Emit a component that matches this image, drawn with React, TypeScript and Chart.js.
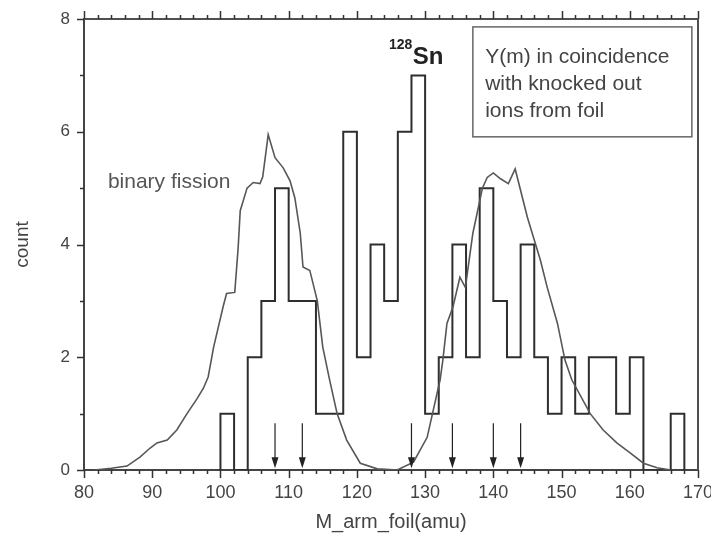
import React, { useEffect, useRef } from "react";
import { Chart, registerables } from "chart.js";

Chart.register(...registerables);

// Histogram: Y(m) in coincidence with knocked out ions from foil (2 amu bins)
const binStarts = [100, 102, 104, 106, 108, 110, 112, 114, 116, 118, 120, 122, 124, 126, 128, 130, 132, 134, 136, 138, 140, 142, 144, 146, 148, 150, 152, 154, 156, 158, 160, 162, 164, 166];
const binCounts = [1, 0, 2, 3, 5, 3, 3, 1, 1, 6, 2, 4, 3, 6, 7, 1, 2, 4, 2, 5, 3, 2, 4, 2, 1, 2, 1, 2, 2, 1, 2, 0, 0, 1];
const binWidth = 2;

// Binary fission reference curve
const fissionMass = [81.5, 84, 86.3, 88.2, 89.7, 90.7, 92.2, 93.6, 95.1, 96.6, 97.5, 98.2, 99, 100.4, 100.9, 102.1, 102.6, 102.9, 103.9, 104.8, 105.8, 106.2, 107, 108, 109.2, 110.2, 110.9, 111.7, 112.1, 113.1, 114.2, 115, 116, 117.1, 118.5, 120.5, 123, 125.9, 128.3, 130.3, 132.2, 132.6, 133.2, 134.1, 135.1, 135.9, 137, 138.4, 139.1, 140, 141, 142.2, 143.2, 145, 146.9, 147.9, 149.4, 150.5, 151.5, 154.2, 156.1, 158.1, 160.1, 162, 164, 166];
const fissionCount = [0, 0.03, 0.07, 0.23, 0.39, 0.48, 0.53, 0.71, 1.0, 1.27, 1.45, 1.65, 2.18, 2.9, 3.13, 3.15, 3.95, 4.6, 5.0, 5.1, 5.08, 5.2, 5.95, 5.54, 5.36, 5.13, 4.83, 4.2, 3.6, 3.54, 3.0, 2.18, 1.6, 1.0, 0.53, 0.12, 0.02, 0, 0.14, 0.58, 1.6, 1.95, 2.6, 2.9, 3.42, 3.24, 4.2, 5.0, 5.19, 5.27, 5.17, 5.08, 5.34, 4.48, 3.72, 3.24, 2.6, 1.95, 1.6, 1.0, 0.71, 0.48, 0.3, 0.12, 0.04, 0];

// Arrows marking masses
const arrowMasses = [108, 112, 128, 134, 140, 144];

const xMin = 80;
const xMax = 170;
const yMin = 0;
const yMax = 8;
const xMajorStep = 10;
const xMinorStep = 2;
const yMajorStep = 2;
const yMinorStep = 1;

const boxLines = ["Y(m) in coincidence", "with knocked out", "ions from foil"];
const FONT = "'Liberation Sans', Arial, Helvetica, sans-serif";

const decorPlugin = {
  id: "decor",
  afterDraw(chart: any) {
    const ctx = chart.ctx as CanvasRenderingContext2D;
    const xs = chart.scales.x;
    const ys = chart.scales.y;
    const ca = chart.chartArea;
    const px = (v: number) => xs.getPixelForValue(v);
    const py = (v: number) => ys.getPixelForValue(v);
    ctx.save();

    // frame top and right
    ctx.strokeStyle = "#505050";
    ctx.lineWidth = 2;
    ctx.beginPath();
    ctx.moveTo(ca.left - 1, ca.top);
    ctx.lineTo(ca.right, ca.top);
    ctx.lineTo(ca.right, ca.bottom + 1);
    ctx.stroke();

    // tick marks
    ctx.strokeStyle = "#333";
    ctx.lineWidth = 1.5;
    ctx.beginPath();
    for (let v = xMin; v <= xMax + 1e-9; v += xMinorStep) {
      const major = Math.abs(v % xMajorStep) < 1e-9;
      const len = major ? 8 : 4;
      const x = Math.round(px(v)) + 0.5;
      ctx.moveTo(x, ca.bottom);
      ctx.lineTo(x, ca.bottom + len);
      ctx.moveTo(x, ca.top);
      ctx.lineTo(x, ca.top - len);
    }
    for (let v = yMin; v <= yMax + 1e-9; v += yMinorStep) {
      const major = Math.abs(v % yMajorStep) < 1e-9;
      const len = major ? 7 : 4;
      const y = Math.round(py(v)) + 0.5;
      ctx.moveTo(ca.left, y);
      ctx.lineTo(ca.left - len, y);
    }
    ctx.stroke();

    // arrows
    ctx.strokeStyle = "#222";
    ctx.fillStyle = "#222";
    ctx.lineWidth = 1.2;
    arrowMasses.forEach((m) => {
      const x = px(m);
      const yTop = py(0.83);
      const yTip = py(0.03);
      ctx.beginPath();
      ctx.moveTo(x, yTop);
      ctx.lineTo(x, yTip - 8);
      ctx.stroke();
      ctx.beginPath();
      ctx.moveTo(x - 3.5, yTip - 11);
      ctx.lineTo(x + 3.5, yTip - 11);
      ctx.lineTo(x, yTip);
      ctx.closePath();
      ctx.fill();
    });

    // texts
    ctx.textAlign = "left";
    ctx.textBaseline = "alphabetic";
    ctx.fillStyle = "#555";
    ctx.font = `21px ${FONT}`;
    ctx.fillText("binary fission", px(83.5), py(5.0));

    ctx.fillStyle = "#222";
    ctx.font = `bold 14px ${FONT}`;
    ctx.fillText("128", px(124.7), py(7.47));
    ctx.font = `bold 24px ${FONT}`;
    ctx.fillText("Sn", px(128.2), py(7.2));

    // box
    const bx1 = px(137.0);
    const bx2 = px(169.1);
    const by1 = py(7.86);
    const by2 = py(5.91);
    ctx.strokeStyle = "#666";
    ctx.lineWidth = 1.5;
    ctx.strokeRect(bx1, by1, bx2 - bx1, by2 - by1);
    ctx.fillStyle = "#444";
    ctx.font = `21px ${FONT}`;
    const baselines = [7.22, 6.74, 6.26];
    boxLines.forEach((t, i) => ctx.fillText(t, px(138.8), py(baselines[i])));

    ctx.restore();
  },
};

export default function App() {
  const ref = useRef<HTMLCanvasElement | null>(null);
  useEffect(() => {
    document.body.style.margin = "0";
    const canvas = ref.current;
    if (!canvas) return;

    const histPoints: { x: number; y: number }[] = [];
    histPoints.push({ x: binStarts[0], y: 0 });
    binStarts.forEach((s, i) => {
      histPoints.push({ x: s, y: binCounts[i] });
      histPoints.push({ x: s + binWidth, y: binCounts[i] });
    });
    histPoints.push({ x: binStarts[binStarts.length - 1] + binWidth, y: 0 });

    const curvePoints = fissionMass.map((m, i) => ({ x: m, y: fissionCount[i] }));

    const chart = new Chart(canvas, {
      type: "line",
      data: {
        datasets: [
          {
            label: "binary fission",
            data: curvePoints,
            borderColor: "#575757",
            borderWidth: 1.6,
            pointRadius: 0,
            tension: 0,
          },
          {
            label: "Y(m)",
            data: histPoints,
            borderColor: "#2e2e2e",
            borderWidth: 2,
            pointRadius: 0,
            tension: 0,
          },
        ],
      },
      options: {
        animation: false,
        responsive: false,
        maintainAspectRatio: false,
        layout: { padding: { left: 0, right: 13, top: 19, bottom: 0 } },
        plugins: { legend: { display: false }, tooltip: { enabled: false } },
        scales: {
          x: {
            type: "linear",
            min: xMin,
            max: xMax,
            grid: { display: false, drawTicks: false },
            border: { display: true, color: "#444", width: 2 },
            ticks: {
              stepSize: xMajorStep,
              color: "#444",
              font: { family: FONT, size: 18 },
              padding: 12,
              maxRotation: 0,
            },
            title: {
              display: true,
              text: "M_arm_foil(amu)",
              color: "#444",
              font: { family: FONT, size: 20 },
              padding: { top: 0, bottom: 6 },
            },
            afterFit: (s: any) => {
              s.height = 70;
              s.paddingLeft = 0;
              s.paddingRight = 0;
            },
          },
          y: {
            type: "linear",
            min: yMin,
            max: yMax,
            grid: { display: false, drawTicks: false },
            border: { display: true, color: "#444", width: 2 },
            ticks: {
              stepSize: yMajorStep,
              color: "#444",
              font: { family: FONT, size: 17 },
              padding: 14,
            },
            title: {
              display: true,
              text: "count",
              color: "#444",
              font: { family: FONT, size: 19 },
              padding: { top: 11, bottom: 0 },
            },
            afterFit: (s: any) => {
              s.width = 84;
              s.paddingTop = 0;
              s.paddingBottom = 0;
            },
          },
        },
      },
      plugins: [decorPlugin],
    });
    return () => chart.destroy();
  }, []);

  return (
    <div style={{ width: 711, height: 540, background: "#fff" }}>
      <canvas ref={ref} width={711} height={540} style={{ display: "block" }} />
    </div>
  );
}
